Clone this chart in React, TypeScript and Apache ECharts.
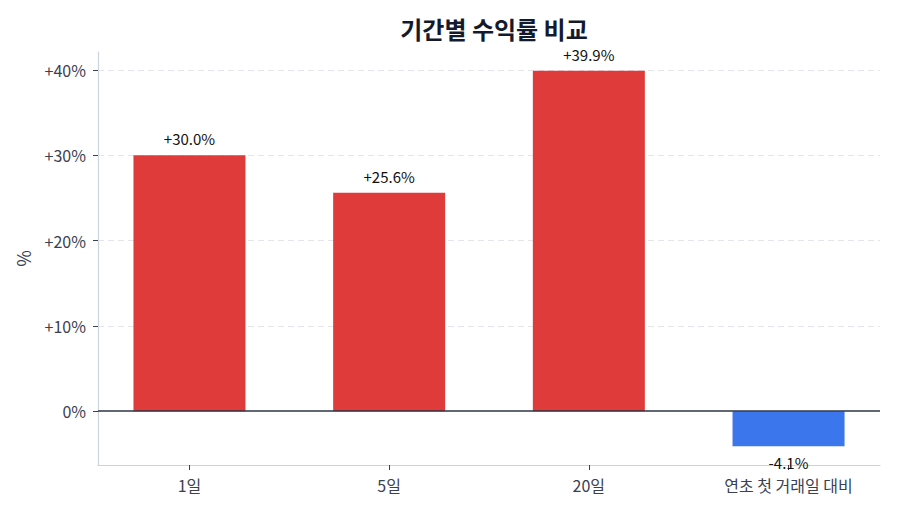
import React, { useEffect, useRef } from 'react';
import * as echarts from 'echarts';

const categories = ['1일', '5일', '20일', '연초 첫 거래일 대비'];
const returns = [30.0, 25.6, 39.9, -4.1];
const yTicks = [0, 10, 20, 30, 40];
const gridValues = [10, 20, 30, 40];

const FONT = '"Noto Sans CJK KR", "Noto Sans", sans-serif';
const UP = '#e03b3b';
const DOWN = '#3b76ec';

const fmtPct = (v: number) => (v > 0 ? `+${v.toFixed(1)}%` : `${v.toFixed(1)}%`);
const fmtTick = (v: number) => (v > 0 ? `+${v}%` : `${v}%`);

export default function App() {
  const chartRef = useRef<HTMLDivElement>(null);

  useEffect(() => {
    if (!chartRef.current) return;
    const chart = echarts.init(chartRef.current, undefined, { renderer: 'svg' });

    const xIdx = categories.map((_, i) => i);
    const low = Math.min(...returns, 0);
    const high = Math.max(...returns, 0);
    const pad = (high - low) * 0.05;

    const option: any = {
      animation: false,
      backgroundColor: '#ffffff',
      textStyle: { fontFamily: FONT },
      title: {
        text: '기간별 수익률 비교',
        left: 489,
        textAlign: 'center',
        top: 11,
        textStyle: { fontSize: 24, fontWeight: 'bold', color: '#141a2e', fontFamily: FONT }
      },
      grid: { left: 98, right: 20, top: 52, bottom: 49 },
      xAxis: {
        type: 'value',
        min: -0.458,
        max: categories.length - 1 + 0.458,
        splitLine: { show: false },
        axisLine: { show: true, onZero: false, lineStyle: { color: '#cdd2dd', width: 1.2 } },
        axisTick: { show: true, customValues: xIdx, length: 5, lineStyle: { color: '#3a4152' } },
        axisLabel: {
          customValues: xIdx,
          formatter: (v: number) => categories[Math.round(v)] ?? '',
          fontSize: 16,
          color: '#3a4152',
          margin: 12,
          fontFamily: FONT
        }
      },
      yAxis: {
        type: 'value',
        min: low - pad,
        max: high + pad,
        name: '%',
        nameLocation: 'middle',
        nameRotate: 90,
        nameGap: 66,
        nameTextStyle: { fontSize: 18, color: '#3a4152', fontFamily: FONT },
        splitLine: { show: false },
        axisLine: { show: true, onZero: false, lineStyle: { color: '#cdd2dd', width: 1.2 } },
        axisTick: { show: true, customValues: yTicks, length: 5, lineStyle: { color: '#3a4152' } },
        axisLabel: {
          customValues: yTicks,
          formatter: (v: number) => fmtTick(v),
          fontSize: 16,
          color: '#3a4152',
          margin: 12,
          fontFamily: FONT
        }
      },
      series: [
        {
          type: 'line',
          data: [],
          silent: true,
          markLine: {
            z: 1,
            silent: true,
            symbol: ['none', 'none'],
            label: { show: false },
            lineStyle: { color: '#e3e6ee', type: [6, 4], width: 1 },
            data: gridValues.map((v) => ({ yAxis: v }))
          }
        },
        {
          type: 'bar',
          barWidth: 112,
          data: returns.map((v, i) => ({
            value: [i, v],
            itemStyle: { color: v >= 0 ? UP : DOWN },
            label: {
              show: true,
              position: v >= 0 ? 'top' : 'bottom',
              distance: 9,
              formatter: fmtPct(v),
              fontSize: 15,
              color: '#111111',
              fontFamily: FONT
            }
          })),
          markLine: {
            z: 5,
            silent: true,
            symbol: ['none', 'none'],
            label: { show: false },
            lineStyle: { color: '#2d3546', type: 'solid', width: 1.5 },
            data: [{ yAxis: 0 }]
          }
        }
      ]
    };

    chart.setOption(option);
    return () => {
      chart.dispose();
    };
  }, []);

  return (
    <div
      ref={chartRef}
      style={{ position: 'absolute', left: 0, top: 0, width: 900, height: 514 }}
    />
  );
}
